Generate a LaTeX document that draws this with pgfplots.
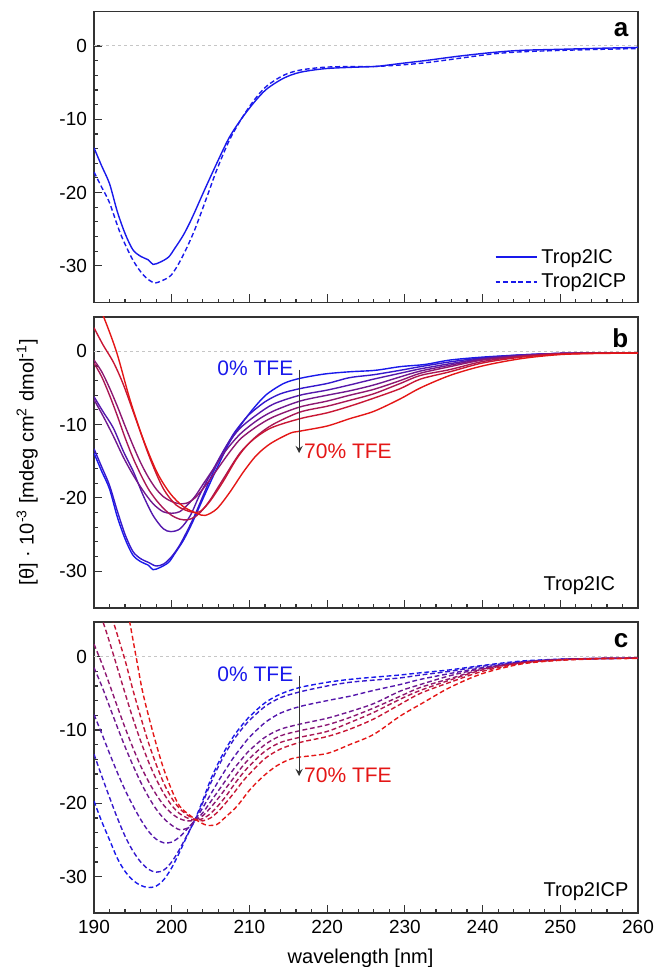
\documentclass[border=0pt]{standalone}
\usepackage{fontspec}
\setmainfont{Liberation Sans}
\usepackage{pgfplots}
\pgfplotsset{compat=1.18}
\definecolor{myblue}{RGB}{25,25,235}
\definecolor{myred}{RGB}{228,22,22}
\colorlet{c0}{myblue}
\colorlet{c1}{myred!14!myblue}
\colorlet{c2}{myred!29!myblue}
\colorlet{c3}{myred!43!myblue}
\colorlet{c4}{myred!57!myblue}
\colorlet{c5}{myred!71!myblue}
\colorlet{c6}{myred!86!myblue}
\colorlet{c7}{myred}
\pgfplotsset{
 panel/.style={
  scale only axis, width=272pt, height=145.5pt,
  xmin=190, xmax=260, ymin=-35, ymax=4.7,
  xtick={190,200,...,260}, ytick={-30,-20,-10,0},
  minor x tick num=4, minor y tick num=4,
  tick align=inside, xtick pos=left, ytick pos=left,
  major tick length=4pt, minor tick length=2pt,
  axis line style={line width=0.8pt, black!80},
  every tick/.style={black!80, line width=0.6pt},
  tick label style={font=\fontsize{9.5}{11}\selectfont},
  /pgf/number format/assume math mode=true,
  every axis plot/.append style={line width=0.7pt, smooth},
 },
 zero/.style={gray!45, line width=0.5pt, dash pattern=on 1.6pt off 1.4pt, sharp plot},
 dsh/.style={dash pattern=on 2.4pt off 1.4pt},
}
\begin{document}
\begin{tikzpicture}
\useasboundingbox (0,0) rectangle (327pt,-483.5pt);
% ---------------- panel a
\begin{axis}[panel, at={(47pt,-5.75pt)}, anchor=north west, xticklabels={},
  legend style={at={(rel axis cs:0.725,0.212)}, anchor=north west, draw=none, fill=none,
    font=\fontsize{10}{12}\selectfont, row sep=-0.3pt,
    /tikz/every even column/.append style={column sep=2pt}},
  legend cell align=left]
\addlegendimage{legend image code/.code={\draw[draw=myblue, line width=0.8pt] (0pt,0.2pt) -- (20.5pt,0.2pt);}}
\addlegendentry{Trop2IC}
\addlegendimage{legend image code/.code={\draw[draw=myblue, line width=0.7pt, dash pattern=on 2.4pt off 1.4pt] (0pt,0pt) -- (20.5pt,0pt);}}
\addlegendentry{Trop2ICP}
\addplot[zero, forget plot] coordinates {(190,0) (260,0)};
\addplot[myblue, forget plot] coordinates {(190,-13.9) (191,-16.4) (192,-18.8) (193,-22.6) (194,-25.6) (195,-27.8) (196,-28.7) (197,-29.2) (197.6,-29.8) (198.5,-29.5) (199.6,-28.8) (200.4,-27.6) (201.5,-25.8) (202.6,-23.5) (204.2,-19.7) (205.8,-16.0) (207.4,-12.5) (209,-9.9) (210.6,-7.7) (212.2,-5.9) (214.4,-4.4) (216.5,-3.6) (219.7,-3.1) (223.5,-2.9) (226.2,-2.8) (229.4,-2.4) (232.6,-2.0) (236.9,-1.4) (241.2,-0.9) (245,-0.6) (250.3,-0.45) (255.7,-0.3) (260,-0.2)};
\addplot[myblue, dsh, forget plot] coordinates {(190,-17.2) (191,-19.3) (192,-21.4) (193.4,-25.6) (195,-29.2) (196.4,-31.3) (197.7,-32.3) (198.8,-32.0) (199.9,-31.3) (200.9,-29.7) (202,-27.4) (203.1,-24.7) (204.7,-20.1) (205.8,-16.9) (207.4,-12.9) (209,-9.9) (210.6,-7.4) (212.2,-5.5) (214.4,-4.0) (216.5,-3.3) (219.7,-2.9) (223.5,-2.8) (226.2,-2.8) (229.4,-2.6) (232.6,-2.3) (236.9,-1.7) (241.2,-1.1) (245,-0.8) (250.3,-0.6) (255.7,-0.45) (260,-0.35)};
\node[anchor=north east, font=\fontsize{13}{15}\selectfont\bfseries] at (rel axis cs:0.995,0.985) {a};
\end{axis}
% ---------------- panel b
\begin{axis}[panel, at={(47pt,-158.4pt)}, anchor=north west, xticklabels={},
  ylabel={[θ] · 10\textsuperscript{-3} [mdeg cm\textsuperscript{2} dmol\textsuperscript{-1}]},
  ylabel style={at={(axis description cs:-0.123,0.5)}, anchor=center, font=\fontsize{10}{12}\selectfont}]
\addplot[zero] coordinates {(190,0) (260,0)};
\addplot[c0] coordinates {(190,-13.9) (191,-16.4) (192,-18.8) (193,-22.6) (194,-25.6) (195,-27.8) (196,-28.7) (197,-29.2) (197.6,-29.8) (198.5,-29.5) (199.6,-28.8) (200.4,-27.6) (201.5,-25.8) (202.6,-23.5) (204.2,-19.7) (205.8,-16.0) (207.4,-12.5) (209,-9.9) (210.6,-7.7) (212.2,-5.9) (214.4,-4.4) (216.5,-3.7) (219.7,-3.1) (222.9,-2.8) (226.2,-2.6) (229.4,-2.1) (232.6,-1.8) (235.8,-1.2) (240,-0.8) (245,-0.5) (250,-0.3) (255,-0.25) (260,-0.2)};
\addplot[c1] coordinates {(190,-13.3) (191,-15.8) (192,-18.3) (193,-21.8) (194,-25.0) (195,-27.3) (196,-28.3) (197,-28.8) (198,-29.3) (199,-29.0) (200,-28.0) (201,-26.5) (202,-24.5) (203,-22.3) (204,-19.8) (205,-17.3) (206,-15.0) (207,-13.0) (208,-11.2) (209,-9.8) (210,-8.6) (212,-6.9) (214,-5.8) (216.5,-5.1) (220,-4.4) (222.9,-3.6) (226,-3.2) (229.4,-2.6) (232,-2.1) (235.8,-1.45) (240,-0.9) (245,-0.5) (250,-0.3) (255,-0.25) (260,-0.2)};
\addplot[c2] coordinates {(190,-6.2) (191.2,-8.3) (192.5,-10.5) (193.8,-13.7) (195.1,-16.5) (196.3,-19.6) (197.6,-22.4) (198.9,-24.2) (199.9,-24.6) (201.1,-24.2) (202.4,-22.4) (203.6,-19.6) (205.4,-16.0) (207.1,-12.8) (208.8,-10.5) (210.9,-8.7) (213.1,-7.2) (216.5,-6.0) (220,-5.3) (222.9,-4.6) (226,-3.8) (229.4,-3.0) (232,-2.4) (235.8,-1.7) (240,-1.0) (245,-0.55) (250,-0.3) (255,-0.25) (260,-0.2)};
\addplot[c3] coordinates {(190,-6.6) (191.2,-8.9) (192.5,-11.6) (193.8,-14.5) (195.1,-17.0) (196.3,-19.0) (197.6,-20.8) (198.9,-21.9) (200,-22.1) (201,-21.9) (202,-21.0) (203,-19.8) (204,-18.2) (205.4,-16.0) (207,-13.5) (208.8,-11.3) (210.9,-9.5) (213,-8.2) (216.5,-6.8) (220,-6.0) (222.9,-5.4) (226,-4.6) (229.4,-3.5) (232,-2.7) (235.8,-1.9) (240,-1.1) (245,-0.6) (250,-0.3) (255,-0.25) (260,-0.2)};
\addplot[c4] coordinates {(190,-1.2) (191,-2.8) (192,-5.0) (193,-7.5) (194,-10.2) (195,-12.8) (196,-15.2) (197,-17.2) (198,-18.8) (199,-19.9) (200,-20.5) (201,-20.8) (202,-20.7) (203,-20.0) (204,-18.8) (205,-17.4) (206,-15.9) (207,-14.4) (208,-13.0) (209,-11.8) (210.9,-10.3) (213,-9.0) (216.5,-7.6) (220,-6.8) (222.9,-6.0) (226,-5.2) (229.4,-4.0) (232,-3.0) (235.8,-2.1) (240,-1.2) (245,-0.65) (250,-0.3) (255,-0.25) (260,-0.2)};
\addplot[c5] coordinates {(190,-1.6) (191,-3.5) (192,-6.0) (193,-8.8) (194,-11.8) (195,-14.5) (196,-16.8) (197,-18.8) (198,-20.3) (199,-21.5) (200,-22.4) (201,-22.9) (202,-23.0) (203,-22.6) (204,-21.6) (205,-20.2) (206,-18.5) (207,-16.8) (208,-15.1) (209,-13.6) (210.9,-11.6) (213,-10.0) (216.5,-8.3) (220,-7.5) (222.9,-6.7) (226,-5.8) (229.4,-4.4) (232,-3.3) (235.8,-2.5) (240,-1.4) (245,-0.7) (250,-0.35) (255,-0.25) (260,-0.2)};
\addplot[c6] coordinates {(190,3.2) (191.2,0.8) (192.5,-1.5) (193.8,-4.6) (195.5,-9.6) (197.2,-14.6) (198.9,-18.7) (200.6,-21.0) (202.4,-21.9) (203.6,-21.9) (204.9,-20.5) (206.6,-17.8) (208.4,-14.6) (210.1,-12.4) (212.7,-10.5) (216.5,-9.2) (220,-8.4) (222.9,-7.5) (226,-6.4) (229.4,-5.1) (232,-3.8) (235.8,-2.8) (240,-1.6) (245,-0.8) (250,-0.4) (255,-0.25) (260,-0.2)};
\addplot[c7] coordinates {(190,7.5) (191.2,4.8) (192.9,-0.1) (194.6,-6.5) (196.3,-11.9) (198.1,-16.5) (199.8,-19.4) (201.5,-21.2) (203.2,-22.1) (204.3,-22.4) (205.8,-21.5) (207.5,-19.2) (209.2,-16.5) (210.9,-14.2) (212.7,-12.6) (215.2,-11.2) (216.5,-10.9) (220,-10.2) (222.9,-9.2) (226,-8.2) (229.4,-6.5) (232,-5.0) (235.8,-3.3) (240,-2.0) (245,-1.0) (250,-0.45) (255,-0.3) (260,-0.25)};
\node[anchor=east, text=myblue, font=\fontsize{10.5}{12}\selectfont, inner sep=0pt] at (axis cs:215.7,-2.3) {0\% TFE};
\node[anchor=west, text=myred, font=\fontsize{10.5}{12}\selectfont, inner sep=0pt] at (axis cs:217.0,-13.6) {70\% TFE};
\draw[->, >=stealth, black!80, line width=0.6pt] (axis cs:216.4,-2.5) -- (axis cs:216.4,-13.9);
\node[anchor=west, font=\fontsize{10}{12}\selectfont, inner sep=0pt] at (axis cs:247.8,-32.0) {Trop2IC};
\node[anchor=north east, font=\fontsize{13}{15}\selectfont\bfseries] at (rel axis cs:0.995,0.985) {b};
\end{axis}
% ---------------- panel c
\begin{axis}[panel, at={(47pt,-311.1pt)}, anchor=north west,
  xlabel={wavelength [nm]},
  xlabel style={at={(axis description cs:0.49,-0.155)}, anchor=center, inner sep=0pt, font=\fontsize{10}{12}\selectfont},
  every axis plot/.append style={dsh}]
\addplot[zero] coordinates {(190,0) (260,0)};
\addplot[c0] coordinates {(190,-19.7) (191,-22.5) (192,-25.0) (193,-27.5) (194,-29.3) (195,-30.5) (196,-31.2) (197,-31.5) (198,-31.3) (199,-30.4) (200,-28.8) (201,-26.7) (202,-24.4) (203,-22.2) (204,-19.6) (205,-16.8) (206,-14.5) (207,-12.5) (208,-10.8) (209,-9.4) (210,-8.2) (212,-6.3) (214,-5.1) (216.5,-4.2) (220,-3.5) (222.9,-3.1) (226,-2.8) (229.4,-2.5) (232,-2.2) (235.8,-1.8) (240,-1.2) (245,-0.6) (250,-0.35) (255,-0.25) (260,-0.2)};
\addplot[c1] coordinates {(190,-13.3) (191,-16.3) (192,-19.2) (193,-22.0) (194,-24.5) (195,-26.5) (196,-28.0) (197,-29.0) (198,-29.4) (199,-29.1) (200,-28.0) (201,-26.3) (202,-24.3) (203,-22.3) (204,-19.9) (205,-17.3) (206,-15.0) (207,-13.0) (208,-11.3) (209,-9.9) (210,-8.7) (212,-6.8) (214,-5.6) (216.5,-4.8) (220,-4.0) (222.9,-3.5) (226,-3.2) (229.4,-2.9) (232,-2.5) (235.8,-2.0) (240,-1.3) (245,-0.7) (250,-0.35) (255,-0.25) (260,-0.2)};
\addplot[c2] coordinates {(190,-7.9) (191,-10.5) (192,-13.2) (193,-15.8) (194,-18.2) (195,-20.3) (196,-22.2) (197,-23.8) (198,-24.9) (199,-25.4) (200,-25.3) (201,-24.6) (202,-23.5) (203,-22.3) (204,-20.6) (205,-18.8) (206,-17.0) (207,-15.3) (208,-13.7) (209,-12.3) (210,-11.0) (212,-9.0) (214,-7.7) (216.5,-6.8) (220,-6.0) (222.9,-5.4) (226,-4.6) (229.4,-3.8) (232,-3.1) (235.8,-2.3) (240,-1.5) (245,-0.75) (250,-0.4) (255,-0.25) (260,-0.2)};
\addplot[c3] coordinates {(190,-1.5) (191,-4.0) (192,-6.8) (193,-9.6) (194,-12.3) (195,-14.8) (196,-17.1) (197,-19.1) (198,-20.8) (199,-22.1) (200,-23.0) (201,-23.6) (202,-23.4) (203,-22.4) (204,-21.3) (205,-19.8) (206,-18.3) (207,-16.8) (208,-15.3) (209,-14.0) (210,-12.8) (212,-11.0) (214,-9.9) (216.5,-9.2) (220,-8.4) (222.9,-7.5) (226,-6.4) (229.4,-4.7) (232,-3.8) (235.8,-2.6) (240,-1.6) (245,-0.8) (250,-0.4) (255,-0.25) (260,-0.2)};
\addplot[c4] coordinates {(190,1.7) (191,-0.9) (192,-3.8) (193,-6.8) (194,-9.7) (195,-12.4) (196,-14.9) (197,-17.0) (198,-18.8) (199,-20.3) (200,-21.4) (201,-22.1) (202,-22.4) (203,-22.3) (204,-21.7) (205,-20.6) (206,-19.3) (207,-17.9) (208,-16.5) (209,-15.1) (210,-13.9) (212,-12.0) (214,-10.8) (216.5,-10.1) (220,-9.3) (222.9,-8.3) (226,-7.0) (229.4,-5.4) (232,-4.2) (235.8,-3.0) (240,-1.7) (245,-0.8) (250,-0.4) (255,-0.25) (260,-0.2)};
\addplot[c5] coordinates {(190,7.5) (191,5.2) (192,2.0) (193,-1.5) (194,-5.0) (195,-8.4) (196,-11.5) (197,-14.3) (198,-16.7) (199,-18.7) (200,-20.3) (201,-21.4) (202,-22.0) (203,-22.3) (204,-22.1) (205,-21.4) (206,-20.3) (207,-19.0) (208,-17.5) (209,-16.1) (210,-14.9) (212,-12.9) (214,-11.7) (216.5,-11.0) (220,-10.2) (222.9,-9.0) (226,-7.6) (229.4,-5.8) (232,-4.6) (235.8,-3.2) (240,-1.8) (245,-0.85) (250,-0.45) (255,-0.25) (260,-0.2)};
\addplot[c6] coordinates {(190,11) (191.5,8.0) (192.5,4.7) (193,3.0) (194,-0.5) (195,-4.5) (196,-8.2) (197,-11.7) (198,-14.7) (199,-17.3) (200,-19.3) (201,-20.7) (202,-21.6) (203,-22.2) (204,-22.4) (205,-22.0) (206,-21.1) (207,-19.9) (208,-18.6) (209,-17.2) (210,-16.0) (212,-13.9) (214,-12.6) (216.5,-11.7) (220,-10.9) (222.9,-9.9) (226,-8.5) (229.4,-6.5) (232,-5.0) (235.8,-3.5) (240,-2.0) (245,-0.9) (250,-0.45) (255,-0.25) (260,-0.2)};
\addplot[c7] coordinates {(193.5,11) (194.6,4.7) (195.5,-0.5) (196.3,-5.0) (197.6,-10.4) (198.9,-15.1) (200.2,-18.7) (201.1,-20.5) (202.4,-21.7) (203.2,-22.3) (204.5,-23.0) (205.8,-22.9) (206.6,-22.2) (208.4,-20.4) (210.1,-18.1) (211.8,-16.3) (213.5,-14.9) (215.2,-14.0) (216.5,-13.7) (220,-13.2) (222.9,-12.0) (226,-10.6) (229.4,-8.1) (232,-6.5) (235.8,-4.2) (240,-2.3) (245,-1.0) (250,-0.5) (255,-0.3) (260,-0.25)};
\node[anchor=east, text=myblue, font=\fontsize{10.5}{12}\selectfont, inner sep=0pt] at (axis cs:215.7,-2.4) {0\% TFE};
\node[anchor=west, text=myred, font=\fontsize{10.5}{12}\selectfont, inner sep=0pt] at (axis cs:217.0,-16.2) {70\% TFE};
\draw[->, >=stealth, black!80, line width=0.6pt] (axis cs:216.4,-2.6) -- (axis cs:216.4,-16.3);
\node[anchor=west, font=\fontsize{10}{12}\selectfont, inner sep=0pt] at (axis cs:247.8,-32.1) {Trop2ICP};
\node[anchor=north east, font=\fontsize{13}{15}\selectfont\bfseries] at (rel axis cs:0.995,0.985) {c};
\end{axis}
\end{tikzpicture}
\end{document}
